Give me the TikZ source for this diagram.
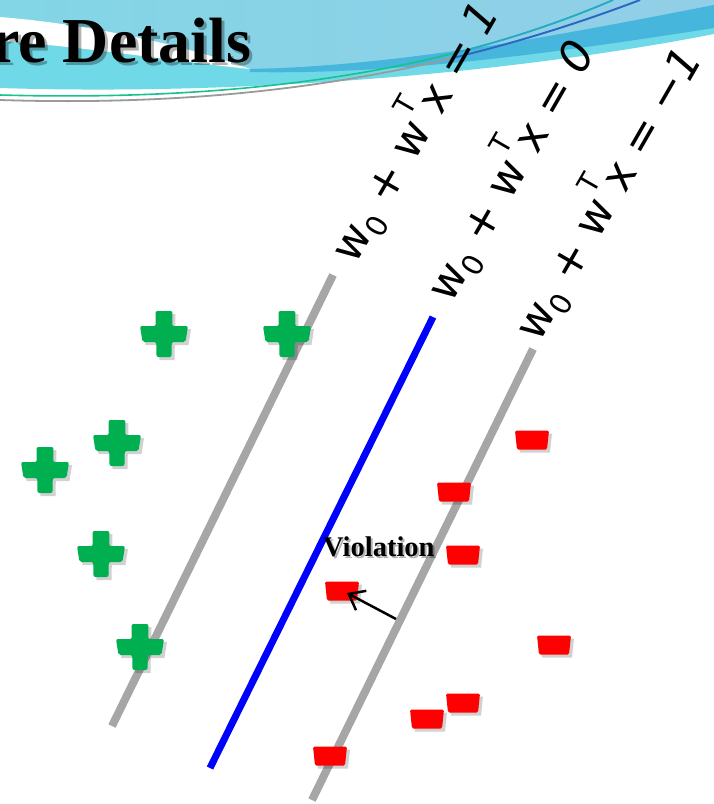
\documentclass[tikz,border=0pt]{standalone}
\usepackage{fontspec}
\setmainfont{Liberation Serif}
\newfontfamily\eqfont{DejaVu Sans}
\usetikzlibrary{arrows.meta,calc}

\definecolor{plusgreen}{HTML}{00B050}
\definecolor{minusred}{HTML}{FF0000}
\definecolor{margingray}{HTML}{A6A6A6}
\definecolor{hyperblue}{HTML}{0000FF}
\definecolor{bandcyan}{HTML}{70D9E8}
\definecolor{bandmid}{HTML}{47B6DC}
\definecolor{skyleft}{HTML}{82D6E6}
\definecolor{skyright}{HTML}{92CEE7}
\definecolor{swgreen}{HTML}{14C38E}
\definecolor{swteal}{HTML}{2AA8C8}
\definecolor{swgray}{HTML}{9A9A9A}
\definecolor{swblue}{HTML}{2468CC}

\tikzset{
  margin/.style={draw=margingray, line width=8pt},
  boundary/.style={draw=hyperblue, line width=7pt},
  eqlbl/.style={font=\eqfont\fontsize{44}{48}\selectfont, inner sep=0pt,
                anchor=base west, rotate=60},
  plusmark/.pic={
    \fill[black, opacity=0.18] (-8.5+3,-23+3) -- (8.5+3,-23+3) -- (8.2+3,-8+3) -- (24+3,-8+3)
      -- (21.5+3,8+3) -- (7.8+3,8+3) -- (7.5+3,23+3) -- (-7.5+3,23+3) -- (-7.8+3,8+3)
      -- (-21.5+3,8+3) -- (-24+3,-8+3) -- (-8.2+3,-8+3) -- cycle;
    \fill[plusgreen, rounded corners=2pt] (-8.5,-23) -- (8.5,-23) -- (8.2,-8) -- (24,-8)
      -- (21.5,8) -- (7.8,8) -- (7.5,23) -- (-7.5,23) -- (-7.8,8)
      -- (-21.5,8) -- (-24,-8) -- (-8.2,-8) -- cycle;
  },
  minusmark/.pic={
    \fill[black, opacity=0.18] (-17+3,-9.5+3) -- (17+3,-9.5+3) -- (15+3,9.5+3) -- (-15+3,9.5+3) -- cycle;
    \fill[minusred, rounded corners=1.5pt] (-17,-9.5) -- (17,-9.5) -- (15,9.5) -- (-15,9.5) -- cycle;
  },
  shadowtext/.style={text=black, opacity=0.3},
}

\newcommand{\subzero}{\raisebox{-0.22em}{\fontsize{29}{29}\selectfont 0}}
\newcommand{\supT}{\raisebox{0.62em}{\fontsize{28}{28}\selectfont T}}

\begin{document}
\begin{tikzpicture}[x=1pt, y=-1pt]
\useasboundingbox (0,0) rectangle (714,804);
\fill[white] (0,0) rectangle (714,804);

% ---- header swoosh ----
\fill[bandcyan] (0,0) -- (714,0) -- (714,34)
  .. controls (520,72) and (250,96) .. (0,88) -- cycle;
\shade[left color=skyleft, right color=skyright]
  (0,0) -- (0,17) .. controls (100,25) and (200,50) .. (250,69)
  .. controls (400,66) and (560,35) .. (714,5) -- (714,0) -- cycle;
\fill[white] (0,17) .. controls (100,25) and (200,50) .. (250,69)
  .. controls (180,62) and (80,46) .. (0,41) -- cycle;
\fill[bandmid] (250,69) .. controls (400,66) and (560,35) .. (714,5)
  -- (714,28) .. controls (560,52) and (400,75) .. (250,72) -- cycle;

\draw[swgreen, line width=1.6pt] (0,95) .. controls (250,102) and (450,70) .. (613,0);
\draw[swgray, line width=1.8pt] (0,100) .. controls (250,108) and (450,72) .. (640,0);
\begin{scope}
  \clip (455,0) rectangle (714,100);
  \draw[swteal, line width=1.6pt] (0,95) .. controls (250,102) and (450,70) .. (613,0);
  \draw[swblue, line width=1.8pt] (0,100) .. controls (250,108) and (450,72) .. (640,0);
\end{scope}

% ---- title ----
\node[shadowtext, anchor=base west, inner sep=0pt, font=\bfseries\fontsize{64}{70}\selectfont]
  at (-6,65) {re Details};
\node[anchor=base west, inner sep=0pt, font=\bfseries\fontsize{64}{70}\selectfont]
  (title) at (-9,62) {re Details};

% ---- margin lines and decision boundary ----
\coordinate (Ltop) at (333,275);  \coordinate (Lbot) at (112,726);
\coordinate (Btop) at (433,317);  \coordinate (Bbot) at (210,768);
\coordinate (Rtop) at (533,349);  \coordinate (Rbot) at (312,800);
\draw[margin] (Lbot) -- (Ltop);
\draw[boundary] (Bbot) -- (Btop);
\draw[margin] (Rbot) -- (Rtop);

\node[eqlbl] (eqone)  at (355,266) {w\subzero{} + w\supT{}x = {\itshape 1}};
\node[eqlbl] (eqzero) at (451,305) {w\subzero{} + w\supT{}x = {\itshape 0}};
\node[eqlbl] (eqmone) at (539,344) {w\subzero{} + w\supT{}x = −{\itshape 1}};

% ---- positive samples ----
\pic at (164,334) {plusmark};
\pic at (287,334) {plusmark};
\pic at (117,443) {plusmark};
\pic at (45,470)  {plusmark};
\pic at (101,554) {plusmark};
\pic at (140,647) {plusmark};

% ---- negative samples ----
\pic at (532,440) {minusmark};
\pic at (454,492) {minusmark};
\pic at (463,555) {minusmark};
\pic at (342,591) {minusmark};
\pic at (554,645) {minusmark};
\pic at (463,703) {minusmark};
\pic at (427,719) {minusmark};
\pic at (330,756) {minusmark};

% ---- violation note ----
\node[shadowtext, anchor=base west, inner sep=0pt, font=\bfseries\fontsize{28.5}{32}\selectfont]
  at (325,558) {Violation};
\node[anchor=base west, inner sep=0pt, font=\bfseries\fontsize{28.5}{32}\selectfont]
  (viol) at (323,556) {Violation};
\coordinate (vtail) at (396,619);
\coordinate (vhead) at (347,593);
\draw[line width=2.5pt, -{Straight Barb[length=14pt, width=22pt]}] (vtail) -- (vhead);
\end{tikzpicture}
\end{document}
